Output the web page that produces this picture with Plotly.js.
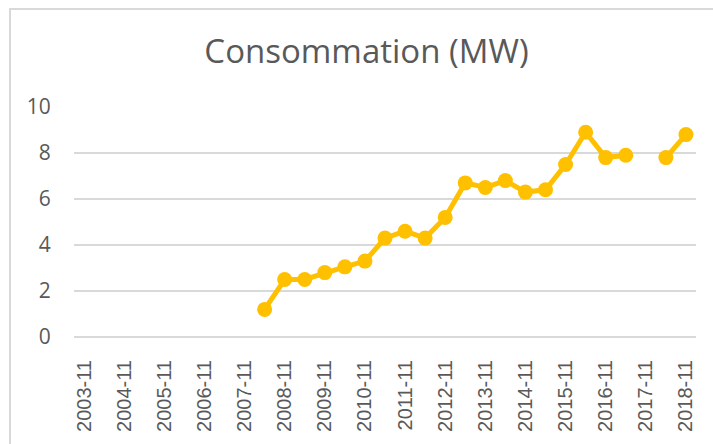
<!DOCTYPE html>
<html>
<head>
<meta charset="utf-8">
<script src="https://cdn.plot.ly/plotly-3.0.1.min.js"></script>
<style>
  html, body { margin: 0; padding: 0; background: #fff; overflow: hidden; }
  #chart { width: 713px; height: 444px; position: absolute; left: 0; top: 0; }
  #frame { position: absolute; left: 9px; top: 8px; width: 900px; height: 700px;
           border: 2px solid #d9d9d9; box-sizing: border-box; pointer-events: none; }
</style>
</head>
<body>
<div id="chart"></div>
<div id="frame"></div>
<script>
const categories = [
  "2003-11","2004-05","2004-11","2005-05","2005-11","2006-05","2006-11","2007-05",
  "2007-11","2008-05","2008-11","2009-05","2009-11","2010-05","2010-11","2011-05",
  "2011-11","2012-05","2012-11","2013-05","2013-11","2014-05","2014-11","2015-05",
  "2015-11","2016-05","2016-11","2017-05","2017-11","2018-05","2018-11"
];
const consommation = [
  null, null, null, null, null, null, null, null,
  null, 1.2, 2.5, 2.5, 2.8, 3.05, 3.3, 4.3,
  4.6, 4.3, 5.2, 6.7, 6.5, 6.8, 6.3, 6.4,
  7.5, 8.9, 7.8, 7.9, null, 7.8, 8.8
];
const tickLabels = [
  "2003-11","2004-11","2005-11","2006-11","2007-11","2008-11","2009-11","2010-11",
  "2011-11","2012-11","2013-11","2014-11","2015-11","2016-11","2017-11","2018-11"
];
const yTicks = [0, 2, 4, 6, 8, 10];

const trace = {
  type: "scatter",
  mode: "lines+markers",
  x: categories,
  y: consommation,
  connectgaps: false,
  line: { color: "#FFC000", width: 5 },
  marker: { color: "#FFC000", size: 15 },
  hoverinfo: "x+y"
};

const layout = {
  width: 713,
  height: 444,
  paper_bgcolor: "#ffffff",
  plot_bgcolor: "#ffffff",
  showlegend: false,
  margin: { l: 74, r: 17, t: 107, b: 107 },
  title: {
    text: "Consommation (MW)",
    font: { family: "'Open Sans', sans-serif", size: 33, color: "#595959" },
    x: 0.514, xanchor: "center", xref: "container",
    y: 1 - 51 / 444, yanchor: "middle", yref: "container"
  },
  xaxis: {
    type: "category",
    categoryorder: "array",
    categoryarray: categories,
    range: [-0.5, categories.length - 0.5],
    tickmode: "array",
    tickvals: tickLabels,
    ticktext: tickLabels,
    tickangle: -90,
    tickfont: { family: "'Liberation Sans', Arial, sans-serif", size: 20, color: "#595959" },
    showgrid: false,
    showline: false,
    zeroline: false,
    ticks: "outside",
    ticklen: 14,
    tickcolor: "rgba(0,0,0,0)"
  },
  yaxis: {
    range: [0, 10],
    tickmode: "array",
    tickvals: yTicks,
    ticktext: yTicks.map(String),
    tickfont: { family: "'Open Sans', sans-serif", size: 21, color: "#595959" },
    showgrid: true,
    gridcolor: "#d9d9d9",
    gridwidth: 1.5,
    zeroline: true,
    zerolinecolor: "#d9d9d9",
    zerolinewidth: 1.5,
    showline: false,
    ticks: "outside",
    ticklen: 18,
    tickcolor: "rgba(0,0,0,0)"
  }
};

Plotly.newPlot("chart", [trace], layout, { displayModeBar: false, staticPlot: true });
</script>
</body>
</html>
